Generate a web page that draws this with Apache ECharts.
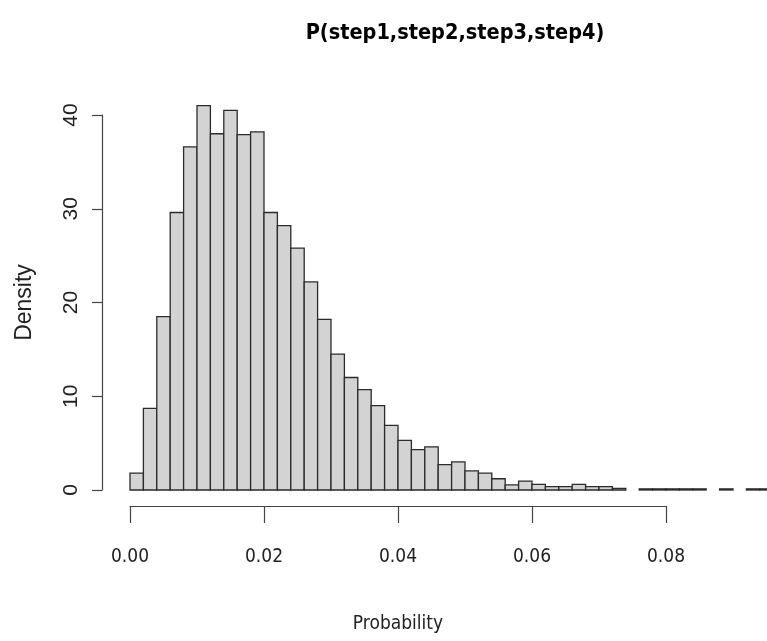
<!DOCTYPE html>
<html>
<head>
<meta charset="utf-8">
<script src="https://cdn.jsdelivr.net/npm/echarts@6/dist/echarts.min.js"></script>
<style>
html,body{margin:0;padding:0;background:#fff;}
#chart{width:767px;height:641px;}
</style>
</head>
<body>
<div id="chart"></div>
<script>
// ---- data ----
var titleText = 'P(step1,step2,step3,step4)';
var xLabel = 'Probability';
var yLabel = 'Density';
var binWidth = 0.002;
var binLeft = [0.000,0.002,0.004,0.006,0.008,0.010,0.012,0.014,0.016,0.018,
               0.020,0.022,0.024,0.026,0.028,0.030,0.032,0.034,0.036,0.038,
               0.040,0.042,0.044,0.046,0.048,0.050,0.052,0.054,0.056,0.058,
               0.060,0.062,0.064,0.066,0.068,0.070,0.072,0.074,0.076,0.078,
               0.080,0.082,0.084,0.086,0.088,0.090,0.092,0.094];
var density = [1.8, 8.7, 18.5, 29.6, 36.6, 41.0, 38.0, 40.5, 37.9, 38.2,
               29.6, 28.2, 25.8, 22.2, 18.2, 14.5, 12.0, 10.7, 9.0, 6.9,
               5.3, 4.3, 4.6, 2.7, 3.0, 2.05, 1.8, 1.2, 0.55, 0.95,
               0.6, 0.35, 0.35, 0.6, 0.35, 0.35, 0.18, 0, 0.12, 0.12,
               0.12, 0.12, 0.12, 0, 0.12, 0, 0.12, 0.12];
var xTicks = [0.00, 0.02, 0.04, 0.06, 0.08];
var yTicks = [0, 10, 20, 30, 40];

var histData = [];
for (var i = 0; i < binLeft.length; i++) {
  if (density[i] > 0) histData.push([binLeft[i], binLeft[i] + binWidth, density[i]]);
}

var narrow = "'Liberation Sans Narrow','Arial Narrow','DejaVu Sans Condensed',sans-serif";
var regular = "'Liberation Sans',Arial,sans-serif";

var chart = echarts.init(document.getElementById('chart'), null, {renderer: 'canvas'});
var option = {
  backgroundColor: '#ffffff',
  animation: false,
  title: {
    text: titleText,
    left: 450,
    top: 17,
    textAlign: 'center',
    textStyle: {fontFamily: narrow, fontWeight: 'bold', fontSize: 21.5, color: '#000'}
  },
  grid: [
    {left: 130, top: 68.125, width: 636.5, height: 421.875, containLabel: false},
    {left: 130, top: 505, width: 536, height: 1, containLabel: false},
    {left: 102, top: 115, width: 10, height: 375, containLabel: false}
  ],
  xAxis: [
    {gridIndex: 0, type: 'value', min: 0, max: 0.095, show: false},
    {gridIndex: 1, type: 'value', min: xTicks[0], max: xTicks[xTicks.length - 1], interval: 0.02,
     position: 'bottom',
     axisLine: {show: true, lineStyle: {color: '#444', width: 1.2}},
     axisTick: {show: true, length: 17, lineStyle: {color: '#444', width: 1.2}},
     splitLine: {show: false},
     axisLabel: {margin: 42, fontFamily: narrow, fontSize: 19, color: '#222',
                 formatter: function (v) { return v.toFixed(2); }},
     name: xLabel, nameLocation: 'middle', nameGap: 109,
     nameTextStyle: {fontFamily: narrow, fontSize: 19, color: '#222'}
    },
    {gridIndex: 2, type: 'value', show: false}
  ],
  yAxis: [
    {gridIndex: 0, type: 'value', min: 0, max: 45, show: false},
    {gridIndex: 1, type: 'value', show: false},
    {gridIndex: 2, type: 'value', min: yTicks[0], max: yTicks[yTicks.length - 1], interval: 10,
     position: 'left',
     axisLine: {show: true, lineStyle: {color: '#444', width: 1.2}},
     axisTick: {show: true, length: 10, lineStyle: {color: '#444', width: 1.2}},
     splitLine: {show: false},
     axisLabel: {rotate: 90, margin: 20, fontFamily: regular, fontSize: 21, color: '#222'},
     name: yLabel, nameLocation: 'middle', nameGap: 66, nameRotate: 90,
     nameTextStyle: {fontFamily: regular, fontSize: 23, color: '#222'}
    }
  ],
  series: [{
    type: 'custom',
    xAxisIndex: 0,
    yAxisIndex: 0,
    data: histData,
    encode: {x: [0, 1], y: 2},
    renderItem: function (params, api) {
      var p0 = api.coord([api.value(0), api.value(2)]);
      var p1 = api.coord([api.value(1), 0]);
      return {
        type: 'rect',
        shape: {x: p0[0], y: p0[1], width: p1[0] - p0[0], height: p1[1] - p0[1]},
        style: {fill: '#d3d3d3', stroke: '#2b2b2b', lineWidth: 1.3}
      };
    }
  }]
};
chart.setOption(option);
</script>
</body>
</html>
